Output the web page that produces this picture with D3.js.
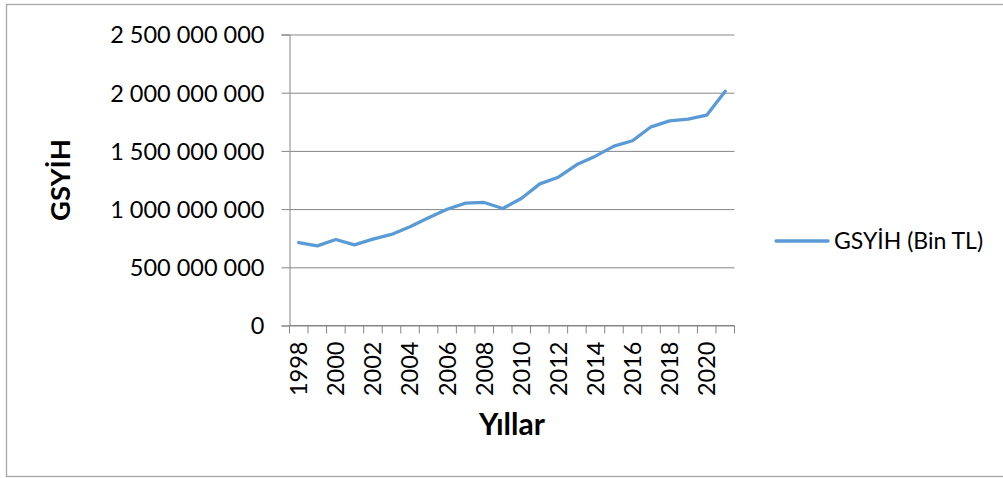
<!DOCTYPE html>
<html>
<head>
<meta charset="utf-8">
<script src="https://cdn.jsdelivr.net/npm/d3@7"></script>
<style>
  body { margin: 0; background: #fff; }
  text { font-family: Lato, "Open Sans", sans-serif; fill: #000; }
</style>
</head>
<body>
<div id="chart"></div>
<script>
// years on the x axis (every second one gets a label)
const years = d3.range(1998, 2022);
// GDP values (thousand TL)
const gdp = [
  713e6, 684e6, 739e6, 693e6, 742e6, 782e6, 848e6, 925e6,
  999e6, 1051e6, 1057e6, 1005e6, 1091e6, 1217e6, 1274e6, 1383e6,
  1455e6, 1541e6, 1587e6, 1707e6, 1758e6, 1773e6, 1807e6, 2013e6
];
const yTicks = [0, 500e6, 1000e6, 1500e6, 2000e6, 2500e6];
const seriesName = "GSYİH (Bin TL)";

const width = 1003, height = 478;
const plot = { left: 289.5, right: 734.5, top: 34.5, bottom: 325.5 };

const svg = d3.select("#chart").append("svg")
    .attr("width", width)
    .attr("height", height);

// outer chart frame
svg.append("rect")
    .attr("x", 6.5).attr("y", 4.5)
    .attr("width", 1010).attr("height", 472)
    .attr("fill", "none")
    .attr("stroke", "#a6a6a6")
    .attr("stroke-width", 1.3);

const x = d3.scaleBand()
    .domain(years)
    .range([plot.left, plot.right]);

const y = d3.scaleLinear()
    .domain([0, 2500e6])
    .range([plot.bottom, plot.top]);

// space as thousands separator
const fmt = d3.formatLocale({ decimal: ",", thousands: " ", grouping: [3], currency: ["", ""] }).format(",d");

// gridlines + y ticks
const yAxis = svg.append("g")
    .attr("transform", `translate(${plot.left},0)`)
    .call(d3.axisLeft(y).tickValues(yTicks).tickFormat(fmt).tickSize(8).tickPadding(17));
yAxis.select(".domain").attr("stroke", "#868686");
yAxis.selectAll(".tick line").attr("stroke", "#868686");
yAxis.selectAll(".tick text").attr("font-size", 23.5).attr("dy", "0.36em");
yAxis.selectAll(".tick").append("line")
    .attr("x2", plot.right - plot.left)
    .attr("stroke", "#868686");

// x axis: ticks on band boundaries
const xAxis = svg.append("g")
    .attr("transform", `translate(0,${plot.bottom})`);
xAxis.append("line")
    .attr("x1", plot.left).attr("x2", plot.right)
    .attr("stroke", "#868686");
xAxis.selectAll(".xt")
  .data(years.concat([null]))
  .join("line")
    .attr("x1", (d, i) => plot.left + i * x.bandwidth())
    .attr("x2", (d, i) => plot.left + i * x.bandwidth())
    .attr("y2", 8)
    .attr("stroke", "#868686");
xAxis.selectAll(".xl")
  .data(years.filter(d => d % 2 === 0))
  .join("text")
    .attr("transform", d => `translate(${x(d) + x.bandwidth() / 2},16) rotate(-90)`)
    .attr("text-anchor", "end")
    .attr("dy", "0.36em")
    .attr("font-size", 23.5)
    .text(d => d);

// the series line
const line = d3.line()
    .x((d, i) => x(years[i]) + x.bandwidth() / 2)
    .y(d => y(d));

svg.append("path")
    .datum(gdp)
    .attr("fill", "none")
    .attr("stroke", "#5b9bd5")
    .attr("stroke-width", 3.3)
    .attr("stroke-linejoin", "round")
    .attr("stroke-linecap", "round")
    .attr("d", line);

// axis titles
svg.append("text")
    .attr("x", (plot.left + plot.right) / 2)
    .attr("y", 435)
    .attr("text-anchor", "middle")
    .attr("font-size", 30)
    .attr("font-weight", "bold")
    .text("Yıllar");

svg.append("text")
    .attr("transform", `translate(70,${(plot.top + plot.bottom) / 2}) rotate(-90)`)
    .attr("text-anchor", "middle")
    .attr("font-size", 27.5)
    .attr("font-weight", "bold")
    .text("GSYİH");

// legend
const legend = svg.append("g").attr("transform", "translate(776,241)");
legend.append("line")
    .attr("x2", 52)
    .attr("stroke", "#5b9bd5")
    .attr("stroke-width", 3.3)
    .attr("stroke-linecap", "round");
legend.append("text")
    .attr("x", 58)
    .attr("dy", "0.36em")
    .attr("font-size", 23)
    .text(seriesName);
</script>
</body>
</html>
